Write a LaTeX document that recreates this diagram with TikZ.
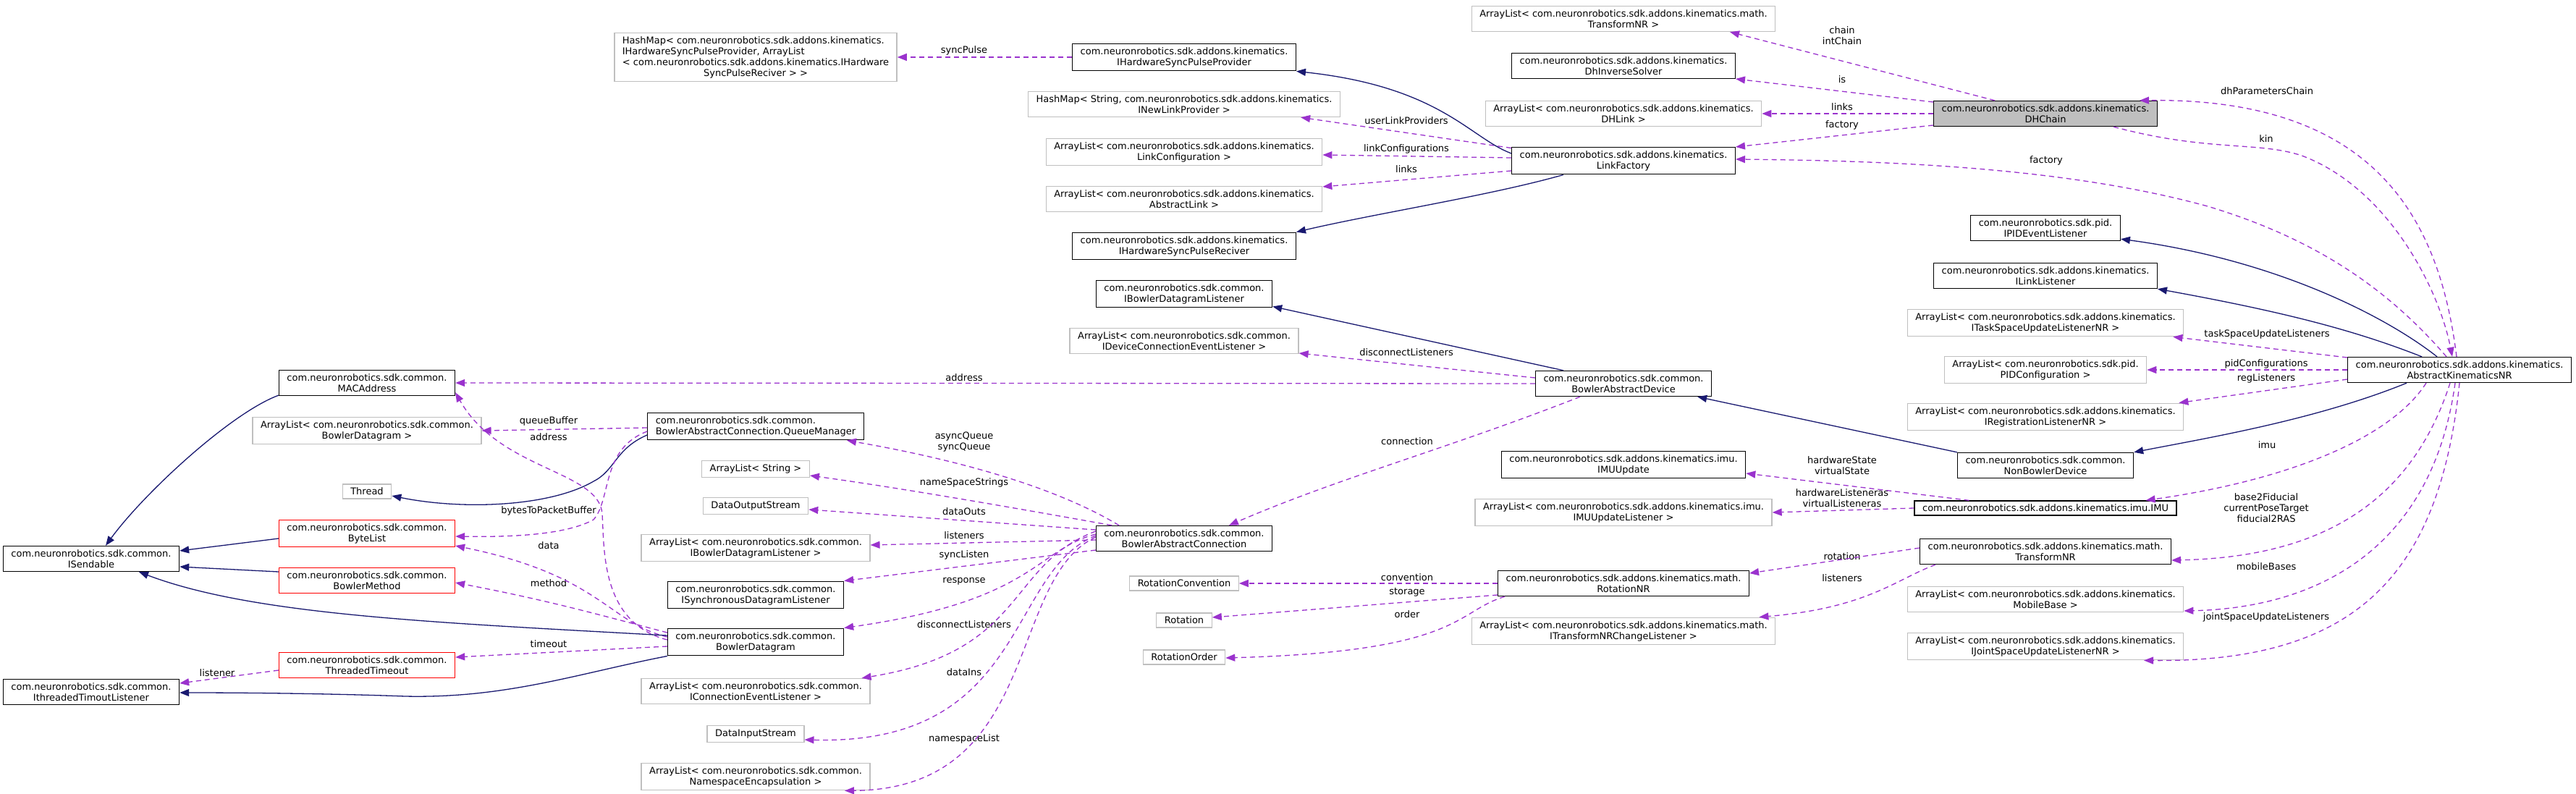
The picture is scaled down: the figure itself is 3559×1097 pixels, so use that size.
\documentclass[tikz,border=0pt]{standalone}
\usepackage{fontspec}
\setmainfont{DejaVu Sans}
\usetikzlibrary{arrows.meta}
\definecolor{depline}{HTML}{9A32CD}
\definecolor{inhline}{HTML}{191970}
\definecolor{extgray}{HTML}{BFBFBF}

\begin{document}
\begin{tikzpicture}[x=1pt,y=-1pt,
    box/.style={draw=black,line width=1.3pt,align=center,inner xsep=11pt,inner ysep=5pt,font=\fontsize{13}{15}\selectfont},
    ext/.style={box,draw=extgray},
    trunc/.style={box,draw=red},
    main/.style={box,fill=extgray},
    lbl/.style={font=\fontsize{13}{15}\selectfont,align=center,inner sep=0pt},
    dep/.style={draw=depline,line width=1.3pt,dash pattern=on 7pt off 5pt,-{Triangle[length=13pt,width=10pt]}},
    inh/.style={draw=inhline,line width=1.3pt,-{Triangle[length=13pt,width=10pt]}}]
    \useasboundingbox (0,0) rectangle (3559,1097);
    % left column
    \node[box] (isend) at (126,772) {com.neuronrobotics.sdk.common.\\ISendable};
    \node[box] (ittl) at (126,956) {com.neuronrobotics.sdk.common.\\IthreadedTimoutListener};
    \node[box] (mac) at (507,529) {com.neuronrobotics.sdk.common.\\MACAddress};
    \node[ext] (albd) at (507,595) {ArrayList< com.neuronrobotics.sdk.common.\\BowlerDatagram >};
    \node[ext] (thread) at (507,679) {Thread};
    \node[trunc] (bytelist) at (507,737) {com.neuronrobotics.sdk.common.\\ByteList};
    \node[trunc] (bmethod) at (507,802) {com.neuronrobotics.sdk.common.\\BowlerMethod};
    \node[trunc] (ttimeout) at (507,919) {com.neuronrobotics.sdk.common.\\ThreadedTimeout};
    % second column
    \node[ext,align=left] (hmsync) at (1044,79) {HashMap< com.neuronrobotics.sdk.addons.kinematics.\\IHardwareSyncPulseProvider, ArrayList\\< com.neuronrobotics.sdk.addons.kinematics.IHardware\\\null\hfill SyncPulseReciver > >\hfill\null};
    \node[box,align=left] (qman) at (1044,589) {com.neuronrobotics.sdk.common.\\BowlerAbstractConnection.QueueManager};
    \node[ext] (alstr) at (1044,648) {ArrayList< String >};
    \node[ext] (dout) at (1044,699) {DataOutputStream};
    \node[ext] (albdl) at (1044,757) {ArrayList< com.neuronrobotics.sdk.common.\\IBowlerDatagramListener >};
    \node[box] (isdl) at (1044,822) {com.neuronrobotics.sdk.common.\\ISynchronousDatagramListener};
    \node[box] (bdgram) at (1044,887) {com.neuronrobotics.sdk.common.\\BowlerDatagram};
    \node[ext] (alcel) at (1044,955) {ArrayList< com.neuronrobotics.sdk.common.\\IConnectionEventListener >};
    \node[ext] (din) at (1044,1014) {DataInputStream};
    \node[ext] (alnse) at (1044,1073) {ArrayList< com.neuronrobotics.sdk.common.\\NamespaceEncapsulation >};
    % third column
    \node[box] (ihspp) at (1636,79) {com.neuronrobotics.sdk.addons.kinematics.\\IHardwareSyncPulseProvider};
    \node[ext] (hmnlp) at (1636,144) {HashMap< String, com.neuronrobotics.sdk.addons.kinematics.\\INewLinkProvider >};
    \node[ext] (allc) at (1636,210) {ArrayList< com.neuronrobotics.sdk.addons.kinematics.\\LinkConfiguration >};
    \node[ext] (alal) at (1636,275) {ArrayList< com.neuronrobotics.sdk.addons.kinematics.\\AbstractLink >};
    \node[box] (ihspr) at (1636,340) {com.neuronrobotics.sdk.addons.kinematics.\\IHardwareSyncPulseReciver};
    \node[box] (ibdl) at (1636,406) {com.neuronrobotics.sdk.common.\\IBowlerDatagramListener};
    \node[ext] (aldcel) at (1636,471) {ArrayList< com.neuronrobotics.sdk.common.\\IDeviceConnectionEventListener >};
    \node[box] (bac) at (1636,744) {com.neuronrobotics.sdk.common.\\BowlerAbstractConnection};
    \node[ext] (rconv) at (1636,806) {RotationConvention};
    \node[ext] (rot) at (1636,857) {Rotation};
    \node[ext] (rord) at (1636,908) {RotationOrder};
    % fourth column
    \node[ext] (altnr) at (2243,26) {ArrayList< com.neuronrobotics.sdk.addons.kinematics.math.\\TransformNR >};
    \node[box] (dhis) at (2243,91) {com.neuronrobotics.sdk.addons.kinematics.\\DhInverseSolver};
    \node[ext] (aldhl) at (2243,157) {ArrayList< com.neuronrobotics.sdk.addons.kinematics.\\DHLink >};
    \node[box] (lfact) at (2243,222) {com.neuronrobotics.sdk.addons.kinematics.\\LinkFactory};
    \node[box] (bad) at (2243,530) {com.neuronrobotics.sdk.common.\\BowlerAbstractDevice};
    \node[box] (imuu) at (2243,642) {com.neuronrobotics.sdk.addons.kinematics.imu.\\IMUUpdate};
    \node[ext] (alimul) at (2243,708) {ArrayList< com.neuronrobotics.sdk.addons.kinematics.imu.\\IMUUpdateListener >};
    \node[box] (rotnr) at (2243,806) {com.neuronrobotics.sdk.addons.kinematics.math.\\RotationNR};
    \node[ext] (altcl) at (2243,872) {ArrayList< com.neuronrobotics.sdk.addons.kinematics.math.\\ITransformNRChangeListener >};
    % fifth column
    \node[main] (dhchain) at (2826,157) {com.neuronrobotics.sdk.addons.kinematics.\\DHChain};
    \node[box] (ipid) at (2826,315) {com.neuronrobotics.sdk.pid.\\IPIDEventListener};
    \node[box] (ilink) at (2826,381) {com.neuronrobotics.sdk.addons.kinematics.\\ILinkListener};
    \node[ext] (altsu) at (2826,446) {ArrayList< com.neuronrobotics.sdk.addons.kinematics.\\ITaskSpaceUpdateListenerNR >};
    \node[ext] (alpid) at (2826,511) {ArrayList< com.neuronrobotics.sdk.pid.\\PIDConfiguration >};
    \node[ext] (alreg) at (2826,576) {ArrayList< com.neuronrobotics.sdk.addons.kinematics.\\IRegistrationListenerNR >};
    \node[box] (nbd) at (2826,643) {com.neuronrobotics.sdk.common.\\NonBowlerDevice};
    \node[box] (imu) at (2826,702) {com.neuronrobotics.sdk.addons.kinematics.imu.IMU};
    \node[box] (tnr) at (2826,762) {com.neuronrobotics.sdk.addons.kinematics.math.\\TransformNR};
    \node[ext] (almb) at (2826,828) {ArrayList< com.neuronrobotics.sdk.addons.kinematics.\\MobileBase >};
    \node[ext] (aljsu) at (2826,893) {ArrayList< com.neuronrobotics.sdk.addons.kinematics.\\IJointSpaceUpdateListenerNR >};
    \node[box] (akn) at (3398,511) {com.neuronrobotics.sdk.addons.kinematics.\\AbstractKinematicsNR};
    % labels
    \node[lbl] (lsync) at (1332,70) {syncPulse};
    \node[lbl] (luser) at (1943,167) {userLinkProviders};
    \node[lbl] (llinkcfg) at (1943,206) {linkConfigurations};
    \node[lbl] (llinks) at (1943,234) {links};
    \node[lbl] (lchain) at (2545,49) {chain\\intChain};
    \node[lbl] (lis) at (2545,110) {is};
    \node[lbl] (ldhlinks) at (2545,148) {links};
    \node[lbl] (lfactory) at (2545,173) {factory};
    \node[lbl] (lfactory2) at (2827,222) {factory};
    \node[lbl] (ldhpar) at (3132,126) {dhParametersChain};
    \node[lbl] (lkin) at (3131,192) {kin};
    \node[lbl] (ltask) at (3132,462) {taskSpaceUpdateListeners};
    \node[lbl] (lpid) at (3131,503) {pidConfigurations};
    \node[lbl] (lreg) at (3131,523) {regListeners};
    \node[lbl] (limu) at (3132,615) {imu};
    \node[lbl] (lbase) at (3131,702) {base2Fiducial\\currentPoseTarget\\fiducial2RAS};
    \node[lbl] (lmobile) at (3131,783) {mobileBases};
    \node[lbl] (ljoint) at (3131,853) {jointSpaceUpdateListeners};
    \node[lbl] (lhwstate) at (2545,643) {hardwareState\\virtualState};
    \node[lbl] (lhwlist) at (2545,688) {hardwareListeneras\\virtualListeneras};
    \node[lbl] (lrotation) at (2545,769) {rotation};
    \node[lbl] (llisteners) at (2545,799) {listeners};
    \node[lbl] (lconv) at (1944,798) {convention};
    \node[lbl] (lstorage) at (1944,818) {storage};
    \node[lbl] (lorder) at (1944,849) {order};
    \node[lbl] (ldisc) at (1943,487) {disconnectListeners};
    \node[lbl] (laddr) at (1332,522) {address};
    \node[lbl] (lconn) at (1944,610) {connection};
    \node[lbl] (lqueue) at (1332,611) {asyncQueue\\syncQueue};
    \node[lbl] (lnss) at (1332,667) {nameSpaceStrings};
    \node[lbl] (ldouts) at (1332,707) {dataOuts};
    \node[lbl] (llist) at (1332,740) {listeners};
    \node[lbl] (lsyncl) at (1332,767) {syncListen};
    \node[lbl] (lresp) at (1332,803) {response};
    \node[lbl] (ldisc2) at (1332,863) {disconnectListeners};
    \node[lbl] (ldins) at (1332,929) {dataIns};
    \node[lbl] (lnsl) at (1332,1021) {namespaceList};
    \node[lbl] (lqbuf) at (758,582) {queueBuffer};
    \node[lbl] (laddr2) at (758,604) {address};
    \node[lbl] (lbytes) at (758,706) {bytesToPacketBuffer};
    \node[lbl] (ldata) at (758,754) {data};
    \node[lbl] (lmethod) at (758,806) {method};
    \node[lbl] (ltimeout) at (758,890) {timeout};
    \node[lbl] (llistener) at (300,930) {listener};
    % kinematics part
    \draw[dep] (ihspp.west) -- (hmsync.east);
    \draw[dep] ([yshift=-2pt]lfact.north west) -- ([xshift=-55pt]hmnlp.south east);
    \draw[dep] ([yshift=4pt]lfact.west) -- ([yshift=-4pt]allc.east);
    \draw[dep] ([yshift=-14pt]lfact.west) -- ([yshift=17pt]alal.east);
    \draw[inh] ([yshift=10pt]lfact.west) .. controls (2030,190) and (1990,120) .. (ihspp.south east);
    \draw[inh] ([xshift=-83pt]lfact.south) .. controls (2060,270) and (1900,295) .. (ihspr.north east);
    \draw[dep] ([xshift=-70pt]dhchain.north) -- ([xshift=147pt]altnr.south);
    \draw[dep] ([yshift=16pt]dhchain.west) -- ([yshift=-18pt]dhis.east);
    \draw[dep] (dhchain.west) -- (aldhl.east);
    \draw[dep] ([yshift=-16pt]dhchain.west) -- ([yshift=19pt]lfact.east);
    \draw[dep] ([xshift=-18pt]akn.north) .. controls (3300,400) and (3200,330) .. (3050,285) .. controls (2850,230) and (2600,222) .. ([yshift=2pt]lfact.east);
    \draw[dep] ([xshift=-4pt]akn.north) .. controls (3370,300) and (3280,135) .. ([xshift=130pt]dhchain.north);
    \draw[dep] ([xshift=94pt]dhchain.south) .. controls (3050,210) and (3120,195) .. (3180,215) .. controls (3300,260) and (3370,400) .. ([xshift=-10pt]akn.north);
    \draw[inh] ([xshift=-31pt]akn.north) .. controls (3300,440) and (3150,360) .. ([yshift=3pt]ipid.south east);
    \draw[inh] ([xshift=-52pt]akn.north) .. controls (3250,455) and (3150,430) .. (ilink.south east);
    \draw[dep] ([yshift=17pt]akn.west) -- ([xshift=-15pt]altsu.south east);
    \draw[dep] (akn.west) -- (alpid.east);
    \draw[dep] ([yshift=-13pt]akn.west) -- ([xshift=-7pt]alreg.north east);
    \draw[inh] ([xshift=-73pt]akn.south) .. controls (3200,580) and (3050,605) .. (nbd.north east);
    \draw[dep] ([xshift=-46pt]akn.south) .. controls (3300,610) and (3150,665) .. ([xshift=-43pt]imu.north east);
    \draw[dep] ([xshift=-13pt]akn.south) .. controls (3330,700) and (3200,770) .. ([yshift=-12pt]tnr.east);
    \draw[dep] ([xshift=-6pt]akn.south) .. controls (3360,760) and (3200,840) .. ([yshift=-16pt]almb.east);
    \draw[dep] (akn.south) .. controls (3370,800) and (3250,915) .. ([xshift=136pt]aljsu.south);
    \draw[dep] ([xshift=76pt]imu.north west) -- ([yshift=-12pt]imuu.east);
    \draw[dep] (imu.west) -- (alimul.east);
    \draw[dep] ([yshift=5pt]tnr.west) -- ([yshift=14pt]rotnr.east);
    \draw[dep] ([xshift=22pt]tnr.south west) .. controls (2620,800) and (2580,840) .. ([xshift=-23pt]altcl.north east);
    \draw[dep] (rotnr.west) -- (rconv.east);
    \draw[dep] ([yshift=-16pt]rotnr.west) -- ([yshift=4pt]rot.east);
    \draw[dep] ([xshift=10pt]rotnr.south west) .. controls (2010,845) and (2020,900) .. ([yshift=-1pt]rord.east);
    % device part
    \draw[inh] ([xshift=-83pt]bad.north) -- ([yshift=2pt]ibdl.south east);
    \draw[dep] ([yshift=8pt]bad.west) -- ([yshift=-17pt]aldcel.east);
    \draw[dep] (bad.west) -- (mac.east);
    \draw[inh] (nbd.north west) -- ([xshift=-20pt]bad.south east);
    \draw[dep] ([xshift=-60pt]bad.south) .. controls (2000,620) and (1850,660) .. ([xshift=62pt]bac.north);
    \draw[dep] ([xshift=-90pt]bac.north) .. controls (1470,680) and (1350,640) .. ([xshift=126pt]qman.south);
    \draw[dep] ([xshift=-100pt]bac.north) .. controls (1420,705) and (1250,675) .. ([yshift=-9pt]alstr.east);
    \draw[dep] ([yshift=12pt]bac.west) -- ([yshift=-5pt]dout.east);
    \draw[dep] ([yshift=-2pt]bac.west) -- ([yshift=4pt]albdl.east);
    \draw[dep] ([yshift=-16pt]bac.west) -- (isdl.north east);
    \draw[dep] ([yshift=6pt]bac.west) .. controls (1430,760) and (1430,830) .. (bdgram.north east);
    \draw[dep] ([yshift=10pt]bac.west) .. controls (1390,780) and (1420,900) .. ([xshift=-12pt]alcel.north east);
    \draw[dep] ([yshift=4pt]bac.west) .. controls (1390,790) and (1420,1030) .. ([yshift=-8pt]din.east);
    \draw[dep] ([yshift=2pt]bac.west) .. controls (1390,800) and (1440,1090) .. ([xshift=123pt]alnse.south);
    % datagram part
    \draw[dep] ([yshift=-2pt]qman.west) -- (albd.east);
    \draw[inh] ([yshift=-12pt]qman.west) .. controls (850,620) and (850,650) .. (820,665) .. controls (760,700) and (640,705) .. ([yshift=-6pt]thread.east);
    \draw[dep] ([yshift=-7pt]qman.west) .. controls (830,620) and (845,690) .. (820,718) .. controls (780,740) and (700,742) .. ([yshift=-4pt]bytelist.east);
    \draw[dep] ([yshift=3pt]bdgram.west) .. controls (830,860) and (835,760) .. (832,710) .. controls (828,650) and (690,650) .. ([yshift=5pt]mac.south east);
    \draw[dep] ([yshift=7pt]bdgram.west) .. controls (840,860) and (830,795) .. ([yshift=-17pt]bytelist.east);
    \draw[dep] ([yshift=13pt]bdgram.west) .. controls (830,850) and (760,830) .. ([yshift=-3pt]bmethod.east);
    \draw[dep] ([yshift=-6pt]bdgram.west) -- ([yshift=11pt]ttimeout.east);
    \draw[dep] ([yshift=-7pt]ttimeout.west) -- ([yshift=12pt]ittl.east);
    \draw[inh] ([yshift=1pt]mac.south west) .. controls (320,570) and (200,680) .. ([xshift=20pt]isend.north);
    \draw[inh] ([yshift=-7pt]bytelist.west) -- ([yshift=11pt]isend.east);
    \draw[inh] ([yshift=12pt]bmethod.west) -- ([yshift=-11pt]isend.east);
    \draw[inh] ([yshift=9pt]bdgram.west) .. controls (600,860) and (350,850) .. ([xshift=66pt]isend.south);
    \draw[inh] (bdgram.south west) .. controls (800,930) and (700,965) .. (560,962) .. controls (450,958) and (330,957) .. ([yshift=-1pt]ittl.east);
  \end{tikzpicture}
\end{document}
